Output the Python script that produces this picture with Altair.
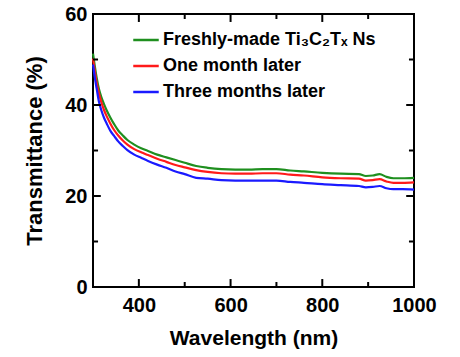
import altair as alt
import pandas as pd

wavelength = [300, 304, 308, 313, 318, 324, 330, 338, 346, 355, 365, 375, 390, 405, 420, 440, 460, 480, 500,
              525, 550, 580, 610, 640, 670, 700, 730, 760, 800, 840, 880, 895, 910, 925, 940, 955, 975, 1000]
fresh = [51.3, 48.5, 46.0, 43.5, 41.8, 40.2, 38.8, 37.2, 35.8, 34.4, 33.3, 32.3, 31.3, 30.5, 29.9, 29.1, 28.5,
         27.9, 27.3, 26.6, 26.2, 25.9, 25.8, 25.8, 25.9, 25.9, 25.6, 25.4, 25.1, 24.9, 24.8, 24.4, 24.5, 24.8,
         24.2, 23.9, 23.9, 24.0]
one_month = [50.2, 47.4, 44.9, 42.5, 40.7, 38.9, 37.5, 35.9, 34.5, 33.3, 32.2, 31.3, 30.3, 29.6, 29.0, 28.2,
             27.5, 26.8, 26.3, 25.7, 25.3, 25.0, 24.9, 24.9, 25.0, 25.0, 24.7, 24.5, 24.1, 23.9, 23.8, 23.4,
             23.5, 23.7, 23.2, 22.9, 22.9, 23.0]
three_months = [48.9, 46.0, 43.6, 40.7, 38.9, 37.2, 35.9, 34.3, 33.2, 32.0, 31.0, 30.1, 29.1, 28.4, 27.7, 26.9,
                26.2, 25.4, 24.8, 24.0, 23.8, 23.5, 23.4, 23.4, 23.4, 23.4, 23.1, 22.9, 22.6, 22.4, 22.2, 21.9,
                22.0, 22.2, 21.7, 21.5, 21.5, 21.4]

series_names = ["Freshly-made Ti\u2083C\u2082T\u2093 Ns", "One month later", "Three months later"]
series_colors = ["#1f8f1f", "#ff1a1a", "#1a1aff"]

x_major = [400, 600, 800, 1000]
x_minor = [500, 700, 900]
y_major = [20, 40]
y_minor = [10, 30, 50]
x_labels = [400, 600, 800, 1000]
y_labels = [0, 20, 40, 60]

W, H = 321, 273
FONT = "Liberation Sans"
XMIN, XMAX, YMIN, YMAX = 300, 1000, 0, 60

rows = []
for name, vals in zip(series_names, [fresh, one_month, three_months]):
    for w, v in zip(wavelength, vals):
        rows.append({"wl": w, "T": v, "series": name})
df = pd.DataFrame(rows)

# tick segments (lengths in data units: ~8 px major, ~5 px minor)
ylen = {"major": 1.75, "minor": 1.1}
xlen = {"major": 17.0, "minor": 11.0}
segs = []
for kind, vals in (("major", x_major), ("minor", x_minor)):
    for v in vals:
        segs.append({"x": v, "x2": v, "y": YMIN, "y2": YMIN + ylen[kind]})
        segs.append({"x": v, "x2": v, "y": YMAX, "y2": YMAX - ylen[kind]})
for kind, vals in (("major", y_major), ("minor", y_minor)):
    for v in vals:
        segs.append({"x": XMIN, "x2": XMIN + xlen[kind], "y": v, "y2": v})
        segs.append({"x": XMAX, "x2": XMAX - xlen[kind], "y": v, "y2": v})
ticks_df = pd.DataFrame(segs)

xscale = alt.Scale(domain=[XMIN, XMAX], nice=False, zero=False)
yscale = alt.Scale(domain=[YMIN, YMAX], nice=False)

xaxis = alt.Axis(values=x_labels, format="d", ticks=False, domain=False, grid=False,
                 labelFlush=False, labelOverlap=False,
                 labelFontSize=20, labelFont=FONT, labelFontWeight="bold",
                 labelColor="black", labelPadding=8,
                 titleFontSize=21, titleFont=FONT, titleFontWeight="bold",
                 titleColor="black", titlePadding=12)
yaxis = alt.Axis(values=y_labels, format="d", ticks=False, domain=False, grid=False,
                 labelFlush=False, labelOverlap=False,
                 labelFontSize=20, labelFont=FONT, labelFontWeight="bold",
                 labelColor="black", labelPadding=6,
                 titleFontSize=22, titleFont=FONT, titleFontWeight="bold",
                 titleColor="black", titlePadding=18)
XT = "Wavelength (nm)"
YT = "Transmittance (%)"

lines = alt.Chart(df).mark_line(strokeWidth=2.2, interpolate="monotone").encode(
    x=alt.X("wl:Q", scale=xscale, title=XT, axis=xaxis),
    y=alt.Y("T:Q", scale=yscale, title=YT, axis=yaxis),
    color=alt.Color("series:N", scale=alt.Scale(domain=series_names, range=series_colors),
                    sort=series_names,
                    legend=alt.Legend(title=None, orient="none", legendX=39, legendY=12,
                                      symbolType="stroke", symbolSize=650, symbolStrokeWidth=2.5,
                                      labelFontSize=18, labelFont=FONT, labelFontWeight="bold",
                                      labelColor="black", rowPadding=3, labelOffset=3,
                                      labelLimit=400)),
)

ticks = alt.Chart(ticks_df).mark_rule(color="#000000", strokeWidth=2).encode(
    x=alt.X("x:Q", scale=xscale, title=XT, axis=xaxis),
    x2="x2:Q",
    y=alt.Y("y:Q", scale=yscale, title=YT, axis=yaxis),
    y2="y2:Q",
)

chart = alt.layer(lines, ticks).properties(
    width=W, height=H,
    autosize=alt.AutoSizeParams(type="none"),
    padding={"left": 93, "top": 14, "right": 46, "bottom": 70},
    background="white",
).configure_view(stroke="black", strokeWidth=2)

chart.save("out.html", embed_options={"renderer": "svg", "actions": False})
